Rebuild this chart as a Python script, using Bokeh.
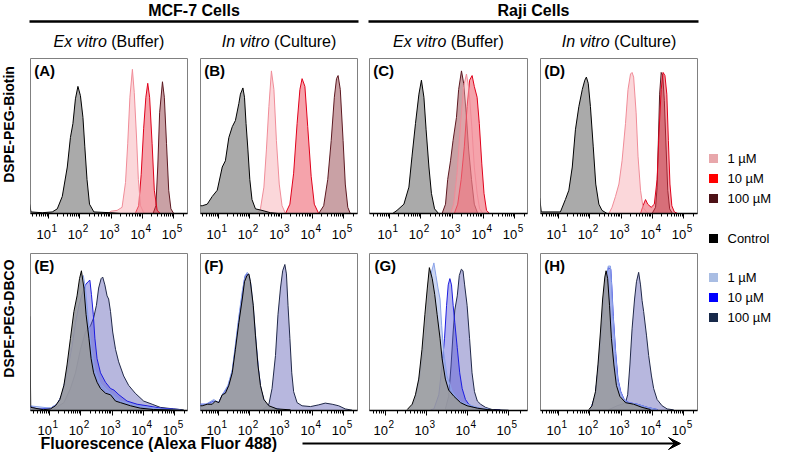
import numpy as np
from bokeh.plotting import figure
from bokeh.layouts import row, column
from bokeh.models import Range1d, FixedTicker, Arrow, VeeHead, Label, LogScale
from bokeh.embed import file_html
from bokeh.resources import INLINE
from bokeh.core.properties import value

FONT = "Liberation Sans"

# ---------------- data (log10 fluorescence, % of max) ----------------
TICK_VALUES = [10, 100, 1000, 10000, 100000]
TICK_BASE = "10"
TICK_EXP = ["1", "2", "3", "4", "5"]
CONC_LABELS = ["1 µM", "10 µM", "100 µM"]
CELL_GROUPS = ["MCF-7 Cells", "Raji Cells"]
ROW_LABELS = ["DSPE-PEG-Biotin", "DSPE-PEG-DBCO"]
X_LABEL = "Fluorescence (Alexa Fluor 488)"

A_ctrl = [(0.40, 6), (0.44, 1), (0.80, 0.5), (1.12, 1), (1.28, 3), (1.44, 11), (1.60, 30), (1.70, 49), (1.78, 58), (1.86, 74), (1.94, 82), (2.02, 76), (2.10, 62), (2.16, 43), (2.23, 22), (2.31, 6), (2.45, 1), (2.98, 0.5), (3.3, 0)]
A_1 = [(2.90, 0), (3.00, 1.5), (3.19, 2), (3.35, 4), (3.46, 20), (3.53, 45), (3.60, 75), (3.68, 93), (3.74, 78), (3.81, 50), (3.87, 22), (3.94, 5), (4.04, 0.5), (4.1, 0)]
A_10 = [(3.78, 0.5), (3.88, 5), (3.96, 25), (4.04, 55), (4.11, 75), (4.17, 84), (4.23, 75), (4.31, 45), (4.38, 15), (4.47, 2), (4.57, 0)]
A_100 = [(4.34, 0), (4.43, 5), (4.49, 30), (4.55, 65), (4.64, 85), (4.70, 75), (4.77, 45), (4.84, 15), (4.91, 3), (5.00, 0)]

B_ctrl = [(0.40, 5), (0.48, 5), (0.64, 6), (0.80, 11), (0.96, 15), (1.12, 30), (1.22, 34), (1.33, 49), (1.44, 56), (1.54, 60), (1.65, 71), (1.70, 77), (1.78, 81), (1.83, 75), (1.88, 58), (1.94, 41), (2.00, 22), (2.07, 9), (2.18, 3), (2.39, 2), (2.66, 0.5), (2.9, 0)]
B_1 = [(2.23, 0), (2.34, 3), (2.45, 17), (2.53, 41), (2.61, 69), (2.69, 92), (2.77, 80), (2.85, 47), (2.94, 19), (3.03, 5), (3.14, 0)]
B_10 = [(3.14, 0), (3.28, 6), (3.40, 26), (3.51, 58), (3.60, 80), (3.67, 87), (3.76, 82), (3.85, 56), (3.96, 24), (4.06, 6), (4.20, 0)]
B_100 = [(4.20, 0), (4.36, 5), (4.49, 22), (4.60, 47), (4.70, 75), (4.77, 87), (4.82, 89), (4.89, 80), (4.98, 47), (5.05, 19), (5.13, 4), (5.21, 0)]

C_ctrl = [(1.10, 0), (1.24, 2), (1.46, 6), (1.62, 17), (1.72, 37), (1.83, 58), (1.94, 77), (2.02, 86), (2.10, 75), (2.17, 54), (2.26, 30), (2.34, 13), (2.44, 3), (2.57, 0)]
C_1 = [(2.95, 0), (3.05, 6), (3.16, 26), (3.27, 58), (3.37, 82), (3.46, 90), (3.54, 80), (3.63, 56), (3.71, 30), (3.80, 13), (3.88, 3), (3.99, 0)]
C_10 = [(3.07, 0), (3.18, 6), (3.29, 22), (3.39, 43), (3.48, 69), (3.56, 86), (3.64, 89), (3.71, 82), (3.80, 75), (3.87, 58), (3.95, 32), (4.02, 13), (4.10, 2), (4.20, 0)]
C_100 = [(2.68, 0), (2.79, 6), (2.86, 22), (2.95, 34), (3.03, 47), (3.14, 62), (3.21, 80), (3.30, 92), (3.37, 84), (3.45, 65), (3.53, 41), (3.62, 22), (3.71, 6), (3.82, 0)]

D_ctrl = [(0.40, 10), (0.45, 1), (1.06, 1), (1.22, 9), (1.33, 15), (1.44, 30), (1.54, 54), (1.65, 69), (1.76, 80), (1.84, 86), (1.89, 88), (1.95, 84), (2.02, 69), (2.11, 43), (2.19, 19), (2.29, 6), (2.39, 2), (2.55, 0)]
D_1 = [(2.61, 0), (2.71, 4), (2.82, 11), (2.93, 19), (3.03, 34), (3.14, 58), (3.22, 80), (3.30, 90), (3.35, 91), (3.40, 88), (3.48, 65), (3.54, 37), (3.62, 15), (3.70, 4), (3.81, 1), (3.90, 0)]
D_10 = [(3.62, 0), (3.70, 5), (3.78, 9), (3.85, 6), (3.96, 4), (4.06, 6), (4.15, 22), (4.21, 52), (4.28, 80), (4.34, 91), (4.40, 89), (4.46, 77), (4.51, 47), (4.56, 19), (4.62, 5), (4.70, 1), (4.81, 0)]
D_100 = [(3.99, 0), (4.10, 4), (4.15, 17), (4.19, 47), (4.23, 77), (4.28, 91), (4.33, 89), (4.38, 73), (4.44, 41), (4.49, 15), (4.55, 3), (4.64, 0)]

E_ctrl = [(0.37, 60), (0.40, 2), (0.80, 0.5), (1.03, 1), (1.19, 3), (1.33, 7), (1.46, 16), (1.56, 29), (1.67, 46), (1.78, 63), (1.88, 73), (1.96, 84), (2.02, 89), (2.10, 78), (2.17, 61), (2.26, 46), (2.33, 33), (2.41, 24), (2.52, 18), (2.63, 14), (2.79, 11), (2.95, 10), (3.11, 6), (3.27, 5), (3.59, 3), (3.90, 1.5), (4.33, 0.6), (5.18, 0.2)]
E_1 = [(0.37, 3), (1.03, 1.5), (1.24, 4), (1.40, 10), (1.56, 25), (1.72, 45), (1.83, 62), (1.94, 76), (2.02, 84), (2.08, 86), (2.15, 78), (2.23, 60), (2.33, 40), (2.45, 26), (2.63, 17), (2.95, 11), (3.27, 6), (3.80, 3), (4.55, 1), (5.18, 0.4)]
E_10 = [(0.37, 3), (0.60, 1), (1.03, 1.5), (1.24, 4), (1.40, 10), (1.56, 24), (1.72, 41), (1.83, 56), (1.94, 67), (2.04, 74), (2.15, 80), (2.23, 82), (2.29, 83), (2.34, 74), (2.40, 61), (2.45, 46), (2.52, 33), (2.63, 24), (2.79, 18), (2.95, 14), (3.06, 13), (3.22, 10), (3.48, 6), (3.80, 4), (4.12, 3), (4.55, 1.5), (5.18, 0.6)]
E_100 = [(1.14, 1), (1.46, 5), (1.67, 14), (1.83, 24), (1.99, 39), (2.15, 50), (2.31, 54), (2.41, 59), (2.50, 67), (2.57, 78), (2.65, 84), (2.70, 85), (2.77, 80), (2.84, 73), (2.89, 71), (2.95, 63), (3.02, 50), (3.11, 39), (3.21, 31), (3.37, 22), (3.53, 16), (3.74, 11), (4.01, 6), (4.28, 4), (4.54, 2), (4.97, 1), (5.29, 0.4)]

F_ctrl = [(0.40, 3), (0.48, 3), (0.64, 4), (0.80, 4), (0.90, 6), (1.01, 5), (1.12, 10), (1.22, 11), (1.33, 16), (1.44, 24), (1.54, 39), (1.65, 56), (1.76, 71), (1.83, 82), (1.91, 86), (1.97, 87), (2.02, 82), (2.11, 67), (2.18, 48), (2.26, 29), (2.34, 16), (2.45, 7), (2.61, 3), (2.87, 1), (3.30, 0.4)]
F_1 = [(0.40, 4), (0.60, 4), (0.85, 7), (1.00, 5), (1.12, 10), (1.30, 16), (1.44, 26), (1.54, 42), (1.65, 60), (1.76, 76), (1.85, 86), (1.92, 88), (1.98, 86), (2.04, 80), (2.12, 64), (2.20, 44), (2.28, 26), (2.36, 13), (2.48, 5), (2.65, 2), (3.00, 0.5)]
F_10 = [(0.40, 4), (0.60, 4), (0.85, 6), (1.00, 5), (1.12, 10), (1.30, 15), (1.44, 25), (1.54, 40), (1.65, 58), (1.76, 74), (1.84, 85), (1.91, 87), (1.97, 85), (2.03, 78), (2.11, 63), (2.19, 44), (2.27, 27), (2.35, 14), (2.46, 6), (2.63, 2), (3.00, 0.5)]
F_100 = [(2.40, 0.5), (2.50, 2), (2.61, 4), (2.71, 14), (2.82, 35), (2.90, 61), (2.98, 78), (3.05, 89), (3.12, 93), (3.17, 87), (3.22, 67), (3.28, 46), (3.34, 24), (3.40, 12), (3.51, 5), (3.67, 3), (3.94, 2.5), (4.20, 3.6), (4.41, 4.7), (4.63, 4), (4.84, 3), (5.05, 1), (5.27, 0.2)]

G_ctrl = [(2.53, 0.6), (2.65, 4), (2.73, 10), (2.81, 20), (2.89, 39), (2.96, 61), (3.02, 78), (3.07, 91), (3.14, 84), (3.20, 74), (3.26, 61), (3.33, 46), (3.38, 33), (3.46, 20), (3.54, 13), (3.67, 9), (3.83, 5), (3.99, 3), (4.24, 1.5), (4.48, 0.6), (4.80, 0.2)]
G_1 = [(2.60, 0.5), (2.73, 7), (2.85, 24), (2.98, 50), (3.06, 74), (3.11, 87), (3.18, 94), (3.23, 86), (3.28, 78), (3.33, 71), (3.37, 54), (3.42, 37), (3.50, 22), (3.63, 12), (3.79, 6), (3.99, 4), (4.32, 1.5), (4.64, 0.4)]
G_10 = [(3.10, 0.5), (3.18, 1), (3.30, 10), (3.38, 29), (3.44, 46), (3.49, 67), (3.53, 80), (3.57, 84), (3.61, 80), (3.65, 67), (3.69, 56), (3.75, 40), (3.81, 24), (3.87, 14), (3.95, 7), (4.03, 4), (4.15, 2), (4.40, 0.6), (4.80, 0.2)]
G_100 = [(3.46, 1), (3.54, 9), (3.60, 29), (3.65, 50), (3.69, 64), (3.75, 73), (3.80, 86), (3.85, 90), (3.89, 89), (3.93, 80), (3.99, 67), (4.05, 46), (4.11, 24), (4.17, 12), (4.24, 6), (4.32, 4), (4.44, 2), (4.60, 0.6), (5.00, 0.2)]

H_ctrl = [(1.97, 0.6), (2.07, 3), (2.18, 12), (2.26, 29), (2.34, 50), (2.41, 71), (2.48, 85), (2.52, 89), (2.57, 84), (2.63, 67), (2.69, 46), (2.77, 29), (2.85, 16), (2.96, 9), (3.14, 5), (3.40, 4), (3.67, 2), (3.94, 0.6)]
H_1 = [(2.02, 0.5), (2.18, 10), (2.34, 41), (2.45, 69), (2.53, 86), (2.59, 92), (2.66, 92), (2.69, 82), (2.74, 61), (2.82, 37), (2.89, 20), (2.98, 12), (3.09, 7), (3.24, 5), (3.51, 4), (3.83, 2), (4.15, 0.6)]
H_10 = [(2.02, 0.5), (2.18, 10), (2.34, 42), (2.45, 70), (2.53, 87), (2.60, 91), (2.67, 90), (2.70, 80), (2.75, 60), (2.83, 36), (2.90, 20), (2.99, 12), (3.10, 7), (3.25, 5), (3.52, 4), (3.84, 2), (4.16, 0.6)]
H_100 = [(2.60, 0.5), (2.87, 3), (3.03, 4), (3.14, 5), (3.21, 10), (3.28, 29), (3.35, 52), (3.43, 71), (3.49, 82), (3.56, 88), (3.62, 80), (3.67, 70), (3.72, 63), (3.81, 48), (3.88, 35), (3.97, 22), (4.04, 14), (4.15, 7), (4.31, 3), (4.47, 1), (4.68, 0.4)]

# ---------------- styles ----------------
CTRL_STYLE = ("#9b9b9b", 0.85, "#000000")
RED_STYLE = [("#f6a7ad", 0.45, "#f08c98"), ("#e93345", 0.45, "#e0001b"), ("#872f37", 0.45, "#5c1820")]
BLUE_STYLE = [("#8ca4e3", 0.45, "#8aa2e8"), ("#5959da", 0.45, "#1c1ce0"), ("#5f5fb6", 0.45, "#202848")]
RED_LEGEND = ["#e8a7ab", "#ff0000", "#4d1116"]
BLUE_LEGEND = ["#a9bde3", "#0000ff", "#17294a"]

MINOR = [m * 10 ** k for k in range(0, 6) for m in range(2, 10)]


def make_panel(letter, ctrl, treat, styles, xr, ticks, width, height, mbl, mbr, mbt, mbb):
    p = figure(width=width, height=height, x_axis_type="log", y_axis_location=None,
               x_range=xr, y_range=Range1d(0, 100),
               toolbar_location=None, output_backend="svg",
               min_border_left=mbl, min_border_right=mbr, min_border_top=mbt, min_border_bottom=mbb)
    p.grid.grid_line_color = None
    p.outline_line_color = "#808080"
    p.outline_line_width = 1
    ax = p.xaxis[0]
    ax.ticker = FixedTicker(ticks=ticks, minor_ticks=MINOR)
    ax.axis_line_color = "black"
    ax.axis_line_width = 1.3
    ax.major_tick_in = 0
    ax.major_tick_out = 5
    ax.minor_tick_in = 0
    ax.minor_tick_out = 3
    ax.major_tick_line_color = "black"
    ax.minor_tick_line_color = "black"
    ax.major_label_text_font_size = "1px"
    ax.major_label_text_color = None
    ax.major_label_standoff = 0
    for curve, (fc, fa, lc) in reversed(list(zip(treat, styles))):
        x = 10 ** np.array([c[0] for c in curve])
        y = np.array([c[1] for c in curve])
        p.varea(x=x, y1=0, y2=y, fill_color=fc, fill_alpha=fa)
        p.line(x, y, line_color=lc, line_width=1)
    fc, fa, lc = CTRL_STYLE
    x = 10 ** np.array([c[0] for c in ctrl])
    y = np.array([c[1] for c in ctrl])
    p.varea(x=x, y1=0, y2=y, fill_color=fc, fill_alpha=fa)
    p.line(x, y, line_color=lc, line_width=1)
    lo = np.log10(xr.start)
    p.add_layout(Label(x=10 ** (lo + 0.12), y=98, text=letter, text_baseline="top", text_align="left",
                       text_font=FONT, text_font_style="bold", text_font_size="15px", text_color="black"))
    return p


def tick_labels(fig, ticks, y_base, y_exp, **kw):
    exps = [TICK_EXP[TICK_VALUES.index(t)] for t in ticks]
    fig.text(x=ticks, y=[y_base] * len(ticks), text=[TICK_BASE] * len(ticks), text_align="right",
             text_baseline="middle", x_offset=2.5, text_font=value(FONT), text_font_size="13px",
             text_color="black", **kw)
    fig.text(x=ticks, y=[y_exp] * len(ticks), text=exps, text_align="left",
             text_baseline="middle", x_offset=3, text_font=value(FONT), text_font_size="10px",
             text_color="black", **kw)


def make_strip(xr, ticks, width, height, mbl, mbr, y_base, y_exp):
    s = figure(width=width, height=height, x_axis_type="log", x_range=xr, y_range=Range1d(height, 0),
               x_axis_location=None, y_axis_location=None, toolbar_location=None, output_backend="svg",
               min_border_left=mbl, min_border_right=mbr, min_border_top=0, min_border_bottom=0)
    s.grid.grid_line_color = None
    s.outline_line_color = None
    tick_labels(s, ticks, y_base, y_exp)
    return s


def blank(width, height, xr, yr):
    p = figure(width=width, height=height, x_range=Range1d(*xr), y_range=Range1d(*yr),
               x_axis_location=None, y_axis_location=None, toolbar_location=None,
               output_backend="svg", min_border=0)
    p.grid.grid_line_color = None
    p.outline_line_color = None
    return p


# panel geometry: (figure width, min_border_left, min_border_right), log10 ranges
GEOM = [(164, 1, 6), (170, 7, 6), (171, 6, 7), (169, 6, 6)]
FRAME_L = [30, 200, 369, 540]
FRAME_R = [187, 357, 527, 697]
RANGES_TOP = [(0.425, 5.44), (0.425, 5.44), (0.361, 5.41), (0.425, 5.44)]
RANGES_BOT = [(0.393, 5.41), (0.425, 5.44), (1.61, 5.463), (0.425, 5.44)]
TOP_DATA = [("(A)", A_ctrl, [A_1, A_10, A_100]), ("(B)", B_ctrl, [B_1, B_10, B_100]),
            ("(C)", C_ctrl, [C_1, C_10, C_100]), ("(D)", D_ctrl, [D_1, D_10, D_100])]
BOT_DATA = [("(E)", E_ctrl, [E_1, E_10, E_100]), ("(F)", F_ctrl, [F_1, F_10, F_100]),
            ("(G)", G_ctrl, [G_1, G_10, G_100]), ("(H)", H_ctrl, [H_1, H_10, H_100])]

LEFT_W = 703
# bottom strip: tick labels of the lower row + x label and arrow
bot = blank(LEFT_W, 36, (0, LEFT_W), (452, 416))

cols_top, panels_bot = [], []
for i in range(4):
    w, l, r = GEOM[i]
    xr = Range1d(10 ** RANGES_TOP[i][0], 10 ** RANGES_TOP[i][1])
    letter, ctrl, treat = TOP_DATA[i]
    p = make_panel(letter, ctrl, treat, RED_STYLE, xr, TICK_VALUES, w, 169, l, r, 8, 6)
    s = make_strip(xr, TICK_VALUES, w, 28, l, r, 15, 8)
    cols_top.append(column(p, s))

    lo, hi = RANGES_BOT[i]
    xr = Range1d(10 ** lo, 10 ** hi)
    letter, ctrl, treat = BOT_DATA[i]
    ticks = TICK_VALUES if i != 2 else TICK_VALUES[1:]
    panels_bot.append(make_panel(letter, ctrl, treat, BLUE_STYLE, xr, ticks, w, 169, l, r, 6, 6))
    # same log scale as the panel, extended over the full strip width
    dpx = (FRAME_R[i] - FRAME_L[i]) / (hi - lo)
    name = "p%d" % i
    bot.extra_x_ranges[name] = Range1d(10 ** (lo - FRAME_L[i] / dpx), 10 ** (lo + (LEFT_W - FRAME_L[i]) / dpx))
    bot.extra_x_scales[name] = LogScale()
    tick_labels(bot, ticks, 429.5, 423, x_range_name=name)

bot.text(x=[40], y=[442.5], text=[X_LABEL], text_align="left", text_baseline="middle",
         text_font=value(FONT), text_font_style="bold", text_font_size="16px")
bot.add_layout(Arrow(x_start=302, y_start=443, x_end=680, y_end=443, line_width=2, line_color="black",
                     end=VeeHead(size=12, fill_color="black", line_color="black")))

# row labels
lab1 = blank(29, 197, (0, 29), (0, 197))
lab1.text(x=[8.5], y=[247 - 124], text=[ROW_LABELS[0]], angle=np.pi / 2, text_align="center",
          text_baseline="middle", text_font=value(FONT), text_font_style="bold", text_font_size="14px")
lab2 = blank(29, 169, (0, 29), (0, 169))
lab2.text(x=[8.5], y=[416 - 317], text=[ROW_LABELS[1]], angle=np.pi / 2, text_align="center",
          text_baseline="middle", text_font=value(FONT), text_font_style="bold", text_font_size="14px")

# header
hdr = blank(LEFT_W, 50, (0, LEFT_W), (50, 0))
for g in range(2):
    x0, x1 = FRAME_L[2 * g] - 1, FRAME_R[2 * g + 1] + 1
    hdr.line([x0, x1], [21, 21], line_color="black", line_width=2.5)
    hdr.text(x=[(x0 + x1) / 2], y=[9.5], text=[CELL_GROUPS[g]], text_align="center", text_baseline="middle",
             text_font=value(FONT), text_font_style="bold", text_font_size="16px")
SUB_IT = ["Ex vitro", "In vitro", "Ex vitro", "In vitro"]
SUB_RM = ["(Buffer)", "(Culture)", "(Buffer)", "(Culture)"]
SUB_OFF = [(-2.2, 2.2), (-9.3, -4.9), (-2.2, 2.2), (-9.3, -4.9)]
for i in range(4):
    c = (FRAME_L[i] + FRAME_R[i]) / 2
    hdr.text(x=[c + SUB_OFF[i][0]], y=[41], text=[SUB_IT[i]], text_align="right", text_baseline="middle",
             text_font=value(FONT), text_font_style="italic", text_font_size="16px")
    hdr.text(x=[c + SUB_OFF[i][1]], y=[41], text=[SUB_RM[i]], text_align="left", text_baseline="middle",
             text_font=value(FONT), text_font_size="16px")

# legend
leg = blank(70, 452, (703, 773), (452, 0))
LEG_Y_TOP = [158, 178, 198]
LEG_Y_BOT = [277, 297, 317]
LEG_X_SQ, LEG_X_TXT = 713, 727
leg.scatter(x=[LEG_X_SQ] * 3, y=LEG_Y_TOP, marker="square", size=9, fill_color=RED_LEGEND, line_color=None)
leg.scatter(x=[LEG_X_SQ] * 3, y=LEG_Y_BOT, marker="square", size=9, fill_color=BLUE_LEGEND, line_color=None)
leg.scatter(x=[LEG_X_SQ], y=[238], marker="square", size=9, fill_color="black", line_color=None)
for ys in (LEG_Y_TOP, LEG_Y_BOT):
    leg.text(x=[LEG_X_TXT] * 3, y=ys, text=CONC_LABELS, text_baseline="middle",
             text_font=value(FONT), text_font_size="13px")
leg.text(x=[LEG_X_TXT], y=[238], text=["Control"], text_baseline="middle",
         text_font=value(FONT), text_font_size="13px")

layout = row(column(hdr, row(lab1, *cols_top), row(lab2, *panels_bot), bot), leg)

open("out.html", "w").write(file_html(layout, INLINE))
